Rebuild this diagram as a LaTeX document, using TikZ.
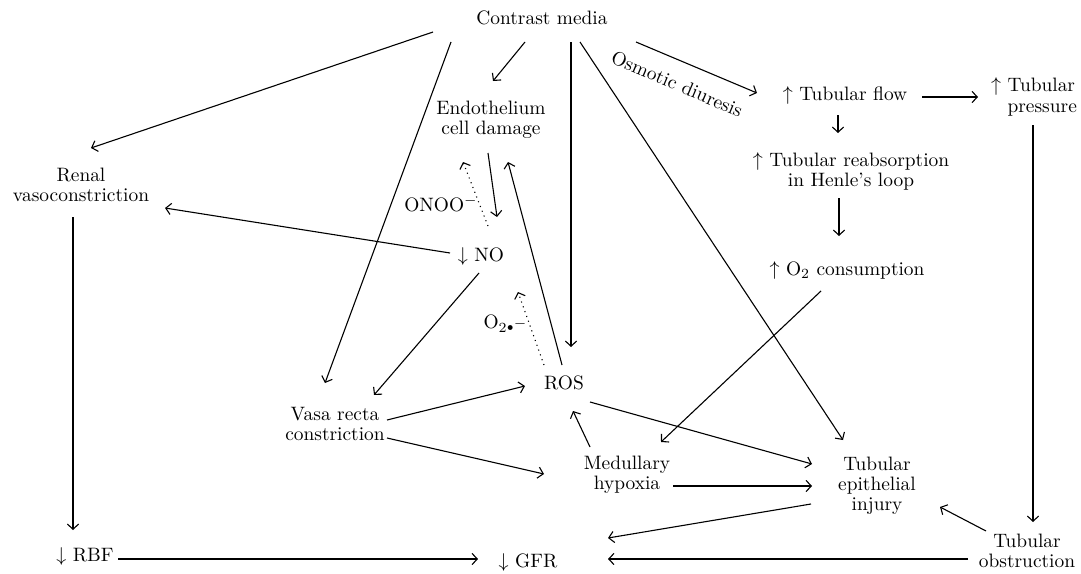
\documentclass[tikz,border=0pt]{standalone}
\usetikzlibrary{arrows.meta,calc}
\begin{document}
\begin{tikzpicture}[x=0.5pt,y=-0.5pt,
  lbl/.style={inner sep=0pt,align=center,font=\fontsize{9.7}{10}\selectfont},
  arr/.style={line width=0.55pt,-{Straight Barb[length=2.6pt,width=5.6pt,line width=0.55pt]}},
  darr/.style={arr,dotted}]
\useasboundingbox (0,0) rectangle (1081,573);
% nodes
\node[lbl] (cm) at (542,18) {Contrast media};
\node[lbl] (endo) at (491,120) {Endothelium\\cell damage};
\node[lbl] (renal) at (81,185) {Renal\\vasoconstriction};
\node[lbl] (no) at (481,256) {$\downarrow$ NO};
\node[lbl] (onoo) at (441,204) {ONOO$^-$};
\node[lbl] (o2) at (505,324) {O\raisebox{-2pt}{$\scriptstyle 2$}\raisebox{-1pt}{$\scriptscriptstyle\bullet$}\raisebox{0.5pt}{$\scriptstyle -$}};
\node[lbl] (ros) at (564,383) {ROS};
\node[lbl] (vasa) at (335,424) {Vasa recta\\constriction};
\node[lbl] (med) at (627,475) {Medullary\\hypoxia};
\node[lbl] (tei) at (877,486) {Tubular\\epithelial\\injury};
\node[lbl] (tob) at (1027,551) {Tubular\\obstruction};
\node[lbl] (gfr) at (528,562) {$\downarrow$ GFR};
\node[lbl] (rbf) at (85,556) {$\downarrow$ RBF};
\node[lbl] (tflow) at (845,95) {$\uparrow$ Tubular flow};
\node[lbl,align=left] (tpress) at (1034,97) {$\uparrow$ Tubular\\\phantom{$\uparrow$ }pressure};
\node[lbl] (reab) at (851,171) {$\uparrow$ Tubular reabsorption\\in Henle's loop};
\node[lbl] (o2c) at (847,270) {$\uparrow$ O$_2$ consumption};
\node[lbl,rotate=-23] (osm) at (677,84) {Osmotic diuresis};
% connectors
\draw[arr] ($(cm)+(-109,14)$) -- ($(renal)+(10,-37)$);
\draw[arr] ($(cm)+(-91,24)$) -- ($(vasa)+(-10,-41)$);
\draw[arr] ($(cm)+(-17,24)$) -- ($(endo)+(2,-39)$);
\draw[arr] ($(cm)+(29,24)$) -- ($(ros)+(7,-36)$);
\draw[arr] ($(cm)+(38,24)$) -- ($(tei)+(-34,-46)$);
\draw[arr] ($(cm)+(94,24)$) -- ($(tflow)+(-88,-2)$);
\draw[arr] ($(endo)+(-3,33)$) -- ($(no)+(16,-39)$);
\draw[darr] ($(no)+(7,-30)$) -- ($(endo)+(-28,42)$);
\draw[arr] ($(ros)+(-2,-18)$) -- ($(endo)+(17,42)$);
\draw[arr] ($(no)+(-31,-3)$) -- ($(renal)+(84,23)$);
\draw[arr] ($(no)+(-2,17)$) -- ($(vasa)+(39,-29)$);
\draw[darr] ($(ros)+(-20,-18)$) -- ($(no)+(37,36)$);
\draw[arr] ($(vasa)+(52,-4)$) -- ($(ros)+(-39,3)$);
\draw[arr] ($(vasa)+(52,14)$) -- ($(med)+(-83,-1)$);
\draw[arr] ($(med)+(-37,-28)$) -- ($(ros)+(9,28)$);
\draw[arr] ($(ros)+(26,19)$) -- ($(tei)+(-65,-22)$);
\draw[arr] ($(med)+(46,11)$) -- ($(tei)+(-65,0)$);
\draw[arr] ($(tei)+(-66,18)$) -- ($(gfr)+(80,-24)$);
\draw[arr] ($(tob)+(-59,8)$) -- ($(gfr)+(80,-3)$);
\draw[arr] ($(tob)+(-41,-20)$) -- ($(tei)+(63,21)$);
\draw[arr] ($(tpress)+(-1,28)$) -- ($(tob)+(6,-29)$);
\draw[arr] ($(tflow)+(77,2)$) -- ($(tpress)+(-56,0)$);
\draw[arr] ($(tflow)+(-7,20)$) -- ($(reab)+(-13,-38)$);
\draw[arr] ($(reab)+(-12,27)$) -- ($(o2c)+(-8,-34)$);
\draw[arr] ($(o2c)+(-26,21)$) -- ($(med)+(34,-33)$);
\draw[arr] ($(renal)+(-8,32)$) -- ($(rbf)+(-12,-26)$);
\draw[arr] ($(rbf)+(33,3)$) -- ($(gfr)+(-50,-3)$);
\end{tikzpicture}
\end{document}
